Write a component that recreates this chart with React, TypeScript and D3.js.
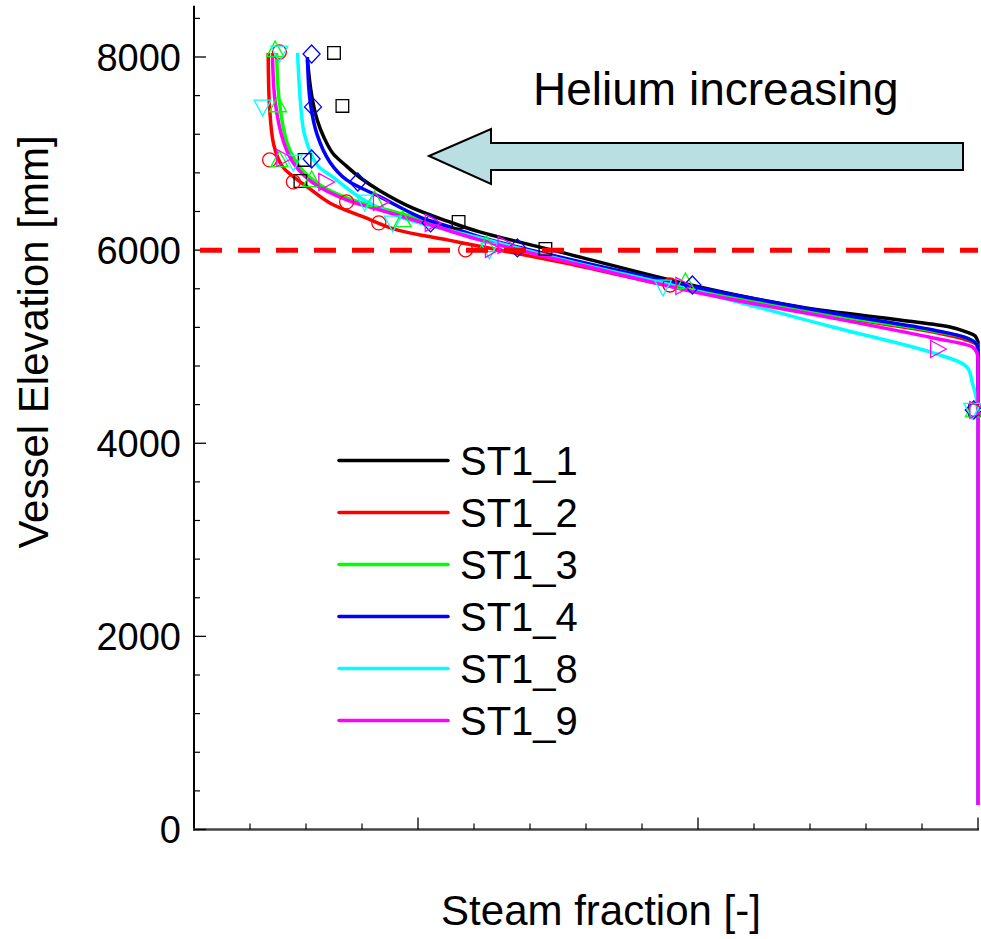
import React from 'react';
import * as d3 from 'd3';

const W = 981;
const H = 939;

// Series meta
const seriesNames = ['ST1_1', 'ST1_2', 'ST1_3', 'ST1_4', 'ST1_8', 'ST1_9'];
const seriesColors = ['#000000', '#ff0000', '#00ff00', '#0000ff', '#00ffff', '#ff00ff'];
const markerShapes = ['square', 'circle', 'triangleUp', 'diamond', 'triangleDown', 'triangleRight'];

// Simulation lines: [steam fraction, elevation mm]
const st1_1Line: [number, number][] = [
  [0.521, 7969], [0.524, 7607], [0.528, 7348], [0.533, 7162], [0.539, 7006], [0.548, 6882],
  [0.559, 6747], [0.573, 6613], [0.596, 6437], [0.621, 6300], [0.644, 6189], [0.701, 5982],
  [0.801, 5619], [0.873, 5411], [0.944, 5277], [0.980, 5204], [0.992, 5152], [0.998, 5111],
  [1.0, 5049], [1.0, 254],
];
const st1_2Line: [number, number][] = [
  [0.493, 8042], [0.494, 7472], [0.497, 7089], [0.503, 6870], [0.511, 6760], [0.521, 6654],
  [0.537, 6489], [0.561, 6344], [0.585, 6209], [0.621, 6106], [0.644, 6040], [0.701, 5878],
  [0.801, 5567], [0.896, 5318], [0.968, 5152], [0.992, 5069], [0.999, 5018], [1.0, 4945], [1.0, 254],
];
const st1_3Line: [number, number][] = [
  [0.499, 8042], [0.501, 7534], [0.507, 7089], [0.516, 6851], [0.530, 6675], [0.551, 6530],
  [0.573, 6437], [0.609, 6292], [0.644, 6127], [0.701, 5920], [0.801, 5587], [0.896, 5328],
  [0.968, 5163], [0.992, 5090], [0.999, 5028], [1.0, 4966], [1.0, 254],
];
const st1_4Line: [number, number][] = [
  [0.521, 8000], [0.523, 7534], [0.528, 7193], [0.537, 6913], [0.549, 6727], [0.573, 6551],
  [0.601, 6344], [0.625, 6230], [0.644, 6137], [0.701, 5930], [0.801, 5608], [0.896, 5349],
  [0.968, 5173], [0.992, 5090], [0.999, 5028], [1.0, 4966], [1.0, 254],
];
const st1_8Line: [number, number][] = [
  [0.514, 8042], [0.516, 7534], [0.519, 7193], [0.528, 6882], [0.539, 6758], [0.559, 6540],
  [0.587, 6344], [0.621, 6209], [0.644, 6127], [0.701, 5909], [0.801, 5567], [0.896, 5204],
  [0.968, 4935], [0.992, 4790], [0.996, 4624], [0.999, 4448], [1.0, 4241], [1.0, 254],
];
const st1_9Line: [number, number][] = [
  [0.496, 8042], [0.498, 7534], [0.504, 7120], [0.511, 6903], [0.525, 6696], [0.549, 6520],
  [0.573, 6416], [0.609, 6261], [0.644, 6106], [0.701, 5899], [0.801, 5556], [0.896, 5297],
  [0.968, 5090], [0.996, 4997], [0.999, 4945], [1.0, 4862], [1.0, 254],
];

// Experimental points
const st1_1Pts: [number, number][] = [
  [0.540, 8042], [0.546, 7493], [0.519, 6934], [0.516, 6716], [0.629, 6292], [0.691, 6013], [0.998, 4344],
];
const st1_2Pts: [number, number][] = [
  [0.501, 8052], [0.494, 6934], [0.511, 6706], [0.549, 6499], [0.572, 6282], [0.634, 6003], [0.780, 5639], [0.998, 4344],
];
const st1_3Pts: [number, number][] = [
  [0.498, 8073], [0.500, 7503], [0.501, 6934], [0.524, 6727], [0.569, 6520], [0.589, 6313], [0.649, 6054], [0.791, 5670], [0.997, 4344],
];
const st1_4Pts: [number, number][] = [
  [0.524, 8031], [0.525, 7483], [0.524, 6944], [0.557, 6706], [0.609, 6282], [0.671, 6023], [0.796, 5639], [0.997, 4344],
];
const st1_8Pts: [number, number][] = [
  [0.501, 8042], [0.489, 7483], [0.511, 6913], [0.562, 6499], [0.582, 6282], [0.651, 6003], [0.775, 5619], [0.996, 4344],
];
const st1_9Pts: [number, number][] = [
  [0.504, 6954], [0.534, 6706], [0.573, 6499], [0.610, 6282], [0.653, 6013], [0.662, 6054], [0.789, 5629], [0.971, 4976], [0.999, 4344],
];

const seriesLines = [st1_1Line, st1_2Line, st1_3Line, st1_4Line, st1_8Line, st1_9Line];
const seriesPts = [st1_1Pts, st1_2Pts, st1_3Pts, st1_4Pts, st1_8Pts, st1_9Pts];

const yMajorTicks = [0, 2000, 4000, 6000, 8000];
const xMajorTicks = [0.6, 0.8, 1.0];
const referenceElevation = 6000;

const FONT = "'Liberation Sans', Arial, Helvetica, sans-serif";

function markerPath(shape: string, cx: number, cy: number): string {
  switch (shape) {
    case 'square': {
      const s = 6.3;
      return `M${cx - s},${cy - s}H${cx + s}V${cy + s}H${cx - s}Z`;
    }
    case 'diamond': {
      const w = 8.5, h = 9;
      return `M${cx},${cy - h}L${cx + w},${cy}L${cx},${cy + h}L${cx - w},${cy}Z`;
    }
    case 'triangleUp': {
      const w = 8.5, h = 9;
      return `M${cx},${cy - h}L${cx + w},${cy + h * 0.75}L${cx - w},${cy + h * 0.75}Z`;
    }
    case 'triangleDown': {
      const w = 8.5, h = 9;
      return `M${cx},${cy + h}L${cx + w},${cy - h * 0.75}L${cx - w},${cy - h * 0.75}Z`;
    }
    case 'triangleRight': {
      const w = 9, h = 8.5;
      return `M${cx + w},${cy}L${cx - w * 0.75},${cy - h}L${cx - w * 0.75},${cy + h}Z`;
    }
    default:
      return '';
  }
}

export default function App() {
  const x = d3.scaleLinear().domain([0.44, 1.0]).range([194, 978]);
  const y = d3.scaleLinear().domain([0, 8000]).range([829.5, 57]);
  const yTop = 8530;

  const line = d3
    .line<[number, number]>()
    .x((d) => Math.min(x(d[0]), x(1.0)))
    .y((d) => y(d[1]))
    .curve(d3.curveCatmullRom.alpha(0.5));

  // smooth curve through the profile, then a straight vertical run down to the last point
  const profilePath = (data: [number, number][]) => {
    const last = data[data.length - 1];
    const head = line(data.slice(0, -1)) || '';
    return `${head}L${x(last[0])},${y(last[1])}`;
  };

  const yMinor = d3.range(400, 8401, 400).filter((v) => v % 2000 !== 0);
  const xMinor = d3.range(0.48, 0.99, 0.04).filter((v) => Math.abs(v - 0.6) > 1e-6 && Math.abs(v - 0.8) > 1e-6);

  const arrowPts: [number, number][] = [
    [429, 156], [491, 129], [491, 143], [963, 143], [963, 170], [491, 170], [491, 184],
  ];

  return (
    <svg width={W} height={H} style={{ position: 'absolute', left: 0, top: 0, background: '#fff' }}>
      <defs>
        <clipPath id="plotClip">
          <rect x={194} y={0} width={786} height={829.5} />
        </clipPath>
      </defs>
      <rect x={0} y={0} width={W} height={H} fill="#fff" />

      {/* Axes */}
      <line x1={x(0.44)} x2={x(0.44)} y1={y(0) + 1} y2={y(yTop)} stroke="#000" strokeWidth={2} />
      <line x1={x(0.44) - 1} x2={x(1.0) + 1} y1={y(0)} y2={y(0)} stroke="#444" strokeWidth={2.5} />
      {yMajorTicks.map((v) => (
        <line key={'ym' + v} x1={x(0.44)} x2={x(0.44) + 12} y1={y(v)} y2={y(v)} stroke="#000" strokeWidth={1.3} />
      ))}
      {yMinor.map((v) => (
        <line key={'yn' + v} x1={x(0.44)} x2={x(0.44) + 6} y1={y(v)} y2={y(v)} stroke="#000" strokeWidth={1.2} />
      ))}
      {xMajorTicks.map((v) => (
        <line key={'xm' + v} x1={x(v)} x2={x(v)} y1={y(0)} y2={y(0) - 12} stroke="#000" strokeWidth={1.3} />
      ))}
      {xMinor.map((v) => (
        <line key={'xn' + v.toFixed(2)} x1={x(v)} x2={x(v)} y1={y(0)} y2={y(0) - 6} stroke="#000" strokeWidth={1.2} />
      ))}
      {yMajorTicks.map((v) => (
        <text
          key={'yl' + v}
          x={181}
          y={y(v)}
          dy="0.36em"
          textAnchor="end"
          fontFamily={FONT}
          fontSize={38}
          fill="#000"
        >
          {v}
        </text>
      ))}

      {/* Axis titles */}
      <text
        transform={`translate(48,342) rotate(-90)`}
        textAnchor="middle"
        fontFamily={FONT}
        fontSize={42}
        fill="#000"
      >
        Vessel Elevation [mm]
      </text>
      <text x={601} y={925} textAnchor="middle" fontFamily={FONT} fontSize={42} fill="#000">
        Steam fraction [-]
      </text>

      {/* Lines */}
      <g clipPath="url(#plotClip)">
        {seriesLines.map((data, i) => (
          <path key={'l' + i} d={profilePath(data)} fill="none" stroke={seriesColors[i]} strokeWidth={3.5} strokeLinejoin="round" />
        ))}
      </g>

      {/* Markers */}
      {seriesPts.map((pts, i) =>
        pts.map((p, j) => {
          const cx = x(p[0]);
          const cy = y(p[1]);
          if (markerShapes[i] === 'circle') {
            return (
              <circle key={`m${i}-${j}`} cx={cx} cy={cy} r={7} fill="none" stroke={seriesColors[i]} strokeWidth={1.3} />
            );
          }
          return (
            <path key={`m${i}-${j}`} d={markerPath(markerShapes[i], cx, cy)} fill="none" stroke={seriesColors[i]} strokeWidth={1.3} />
          );
        })
      )}

      {/* Reference dashed line */}
      <line
        x1={x(0.44) + 6}
        x2={x(1.0)}
        y1={y(referenceElevation)}
        y2={y(referenceElevation)}
        stroke="#ff0000"
        strokeWidth={5}
        strokeDasharray="22 16"
      />

      {/* Arrow annotation */}
      <polygon
        points={arrowPts.map((p) => p.join(',')).join(' ')}
        fill="#b9dfe3"
        stroke="#000"
        strokeWidth={2}
        strokeLinejoin="miter"
      />
      <text x={533} y={105} fontFamily={FONT} fontSize={46} fill="#000">
        Helium increasing
      </text>

      {/* Legend */}
      {seriesNames.map((name, i) => {
        const ly = 460.5 + i * 52;
        return (
          <g key={'lg' + i}>
            <line x1={339} x2={448} y1={ly} y2={ly} stroke={seriesColors[i]} strokeWidth={3.5} strokeLinecap="round" />
            <text x={460} y={ly + 14.5} fontFamily={FONT} fontSize={40} fill="#000">
              {name}
            </text>
          </g>
        );
      })}
    </svg>
  );
}
